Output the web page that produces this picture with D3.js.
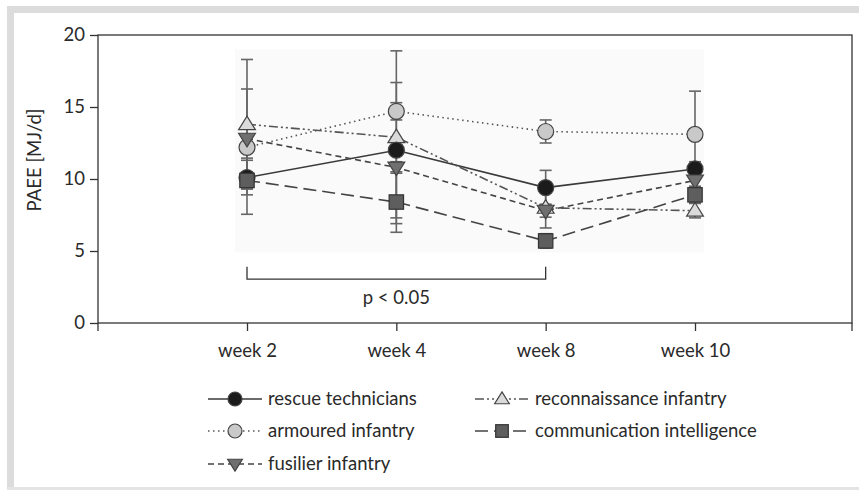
<!DOCTYPE html>
<html>
<head>
<meta charset="utf-8">
<script src="https://cdn.jsdelivr.net/npm/d3@7"></script>
<style>
  body { margin: 0; background: #fff; }
  text { font-family: Lato, "Liberation Sans", sans-serif; fill: #2a2a2a; }
</style>
</head>
<body>
<svg id="chart" width="859" height="490"></svg>
<script>
// data (PAEE in MJ/d, mean and SD)
var weeks = ["week 2", "week 4", "week 8", "week 10"];
var yTicks = [0, 5, 10, 15, 20];

var seriesNames = ["rescue technicians", "armoured infantry", "fusilier infantry",
                   "reconnaissance infantry", "communication intelligence"];

var rescueMean = [10.1, 12.0, 9.4, 10.7];
var rescueSd   = [1.2, 4.7, 1.2, 0.5];
var armouredMean = [12.2, 14.7, 13.3, 13.1];
var armouredSd   = [0.75, 0.6, 0.8, 3.0];
var fusilierMean = [12.8, 10.8, 7.8, 9.9];
var fusilierSd   = [3.45, 0.4, 0.45, 0.4];
var reconMean = [13.8, 12.9, 8.0, 7.8];
var reconSd   = [4.5, 6.0, 1.4, 0.5];
var commMean = [9.9, 8.4, 5.7, 8.9];
var commSd   = [2.35, 2.1, 0.5, 0.5];

var sigFrom = "week 2", sigTo = "week 8", sigLabel = "p < 0.05";

// styles per series
var styles = [
  {name: seriesNames[0], mean: rescueMean, sd: rescueSd, shape: "circle", fill: "#1b1b1b", dash: null, stroke: "#3a3a3a"},
  {name: seriesNames[1], mean: armouredMean, sd: armouredSd, shape: "circle", fill: "#c9c9c9", dash: "1.5,3.5", stroke: "#555"},
  {name: seriesNames[2], mean: fusilierMean, sd: fusilierSd, shape: "down", fill: "#6f6f6f", dash: "6,4", stroke: "#444"},
  {name: seriesNames[3], mean: reconMean, sd: reconSd, shape: "up", fill: "#dadada", dash: "9,3,2,3,2,3", stroke: "#555"},
  {name: seriesNames[4], mean: commMean, sd: commSd, shape: "square", fill: "#5e5e5e", dash: "13,6", stroke: "#444"}
];

var fontSize = "18.5px";
var svg = d3.select("#chart");

// grey page frame
svg.append("rect").attr("x", 7).attr("y", 6).attr("width", 852).attr("height", 7).attr("fill", "#dcdcdc");
svg.append("rect").attr("x", 7).attr("y", 6).attr("width", 7).attr("height", 484).attr("fill", "#dcdcdc");
svg.append("rect").attr("x", 7).attr("y", 487).attr("width", 852).attr("height", 3).attr("fill", "#e4e4e4");

var pLeft = 98, pRight = 852, pTop = 35, pBottom = 323;

var x = d3.scalePoint().domain(weeks).range([247, 695]);
var y = d3.scaleLinear().domain([0, 20]).range([pBottom, pTop]);

// faint shaded background behind the data
svg.append("rect")
  .attr("x", x(weeks[0]) - 12).attr("y", y(19.0))
  .attr("width", x(weeks[3]) - x(weeks[0]) + 21).attr("height", y(4.9) - y(19.0))
  .attr("fill", "#fafafa");

// frame of the plot
svg.append("rect").attr("x", pLeft).attr("y", pTop).attr("width", pRight - pLeft).attr("height", pBottom - pTop)
  .attr("fill", "none").attr("stroke", "#333").attr("stroke-width", 1.3);

var yAxis = svg.append("g").attr("transform", "translate(" + pLeft + ",0)")
  .call(d3.axisLeft(y).tickValues(yTicks).tickSize(8).tickPadding(5).tickSizeOuter(0));
yAxis.select(".domain").remove();
yAxis.selectAll("line").attr("stroke", "#333").attr("stroke-width", 1.3);
yAxis.selectAll("text").style("font-size", fontSize).attr("fill", "#2a2a2a");

var xAxis = svg.append("g").attr("transform", "translate(0," + pBottom + ")")
  .call(d3.axisBottom(x).tickSize(8).tickPadding(13).tickSizeOuter(0));
xAxis.select(".domain").remove();
xAxis.selectAll("line").attr("stroke", "#333").attr("stroke-width", 1.3);
xAxis.selectAll("text").style("font-size", fontSize).attr("fill", "#2a2a2a");
// end ticks at frame corners
[pLeft, pRight].forEach(function(px) {
  svg.append("line").attr("x1", px).attr("x2", px).attr("y1", pBottom).attr("y2", pBottom + 8)
    .attr("stroke", "#333").attr("stroke-width", 1.3);
});

svg.append("text")
  .attr("transform", "translate(41,160) rotate(-90)")
  .attr("text-anchor", "middle")
  .style("font-size", fontSize)
  .text("PAEE [MJ/d]");

// significance bracket
var bx1 = x(sigFrom), bx2 = x(sigTo);
svg.append("path")
  .attr("d", "M" + bx1 + "," + y(3.9) + "V" + y(3.05) + "H" + bx2 + "V" + y(3.9))
  .attr("fill", "none").attr("stroke", "#333").attr("stroke-width", 1.3);
svg.append("text")
  .attr("x", (bx1 + bx2) / 2).attr("y", y(1.35))
  .attr("text-anchor", "middle")
  .style("font-size", fontSize)
  .text(sigLabel);

// marker drawing
function drawMarker(g, shape, fill, s) {
  if (shape === "circle") {
    g.append("circle").attr("r", s).attr("fill", fill).attr("stroke", "#444").attr("stroke-width", 1.2);
  } else if (shape === "square") {
    g.append("rect").attr("x", -s * 0.9).attr("y", -s * 0.9).attr("width", s * 1.8).attr("height", s * 1.8)
      .attr("fill", fill).attr("stroke", "#333").attr("stroke-width", 1.2);
  } else {
    var h = s * 1.7, w = s * 1.05;
    var d = shape === "up"
      ? "M0," + (-h * 0.6) + "L" + w + "," + (h * 0.4) + "L" + (-w) + "," + (h * 0.4) + "Z"
      : "M0," + (h * 0.6) + "L" + w + "," + (-h * 0.4) + "L" + (-w) + "," + (-h * 0.4) + "Z";
    g.append("path").attr("d", d).attr("fill", fill).attr("stroke", "#444").attr("stroke-width", 1.2);
  }
}

var plot = svg.append("g");

// error bars
styles.forEach(function(s) {
  s.mean.forEach(function(m, i) {
    var cx = x(weeks[i]);
    var g = plot.append("g").attr("stroke", "#666").attr("stroke-width", 1.6);
    g.append("line").attr("x1", cx).attr("x2", cx).attr("y1", y(m - s.sd[i])).attr("y2", y(m + s.sd[i]));
    [m - s.sd[i], m + s.sd[i]].forEach(function(v) {
      g.append("line").attr("x1", cx - 6).attr("x2", cx + 6).attr("y1", y(v)).attr("y2", y(v));
    });
  });
});

// connecting lines
var line = d3.line().x(function(d, i) { return x(weeks[i]); }).y(function(d) { return y(d); });
styles.forEach(function(s) {
  plot.append("path").datum(s.mean)
    .attr("d", line)
    .attr("fill", "none")
    .attr("stroke", s.stroke)
    .attr("stroke-width", 1.6)
    .attr("stroke-dasharray", s.dash);
});

// markers
var order = [1, 3, 0, 2, 4];
order.forEach(function(k) {
  var s = styles[k];
  s.mean.forEach(function(m, i) {
    var g = plot.append("g").attr("transform", "translate(" + x(weeks[i]) + "," + y(m) + ")");
    drawMarker(g, s.shape, s.fill, 8);
  });
});

// legend
var legendPos = [
  {col: 0, row: 0}, {col: 0, row: 1}, {col: 0, row: 2}, {col: 1, row: 0}, {col: 1, row: 1}
];
var colX = [208, 475], rowY = [399, 431, 464];
styles.forEach(function(s, k) {
  var lx = colX[legendPos[k].col], ly = rowY[legendPos[k].row];
  var g = svg.append("g").attr("transform", "translate(" + lx + "," + ly + ")");
  g.append("line").attr("x1", 0).attr("x2", 54).attr("y1", 0).attr("y2", 0)
    .attr("stroke", s.stroke).attr("stroke-width", 1.4).attr("stroke-dasharray", s.dash);
  var mg = g.append("g").attr("transform", "translate(27,0)");
  drawMarker(mg, s.shape, s.fill, 7);
  g.append("text").attr("x", 60).attr("y", 6).style("font-size", fontSize).text(s.name);
});
</script>
</body>
</html>
